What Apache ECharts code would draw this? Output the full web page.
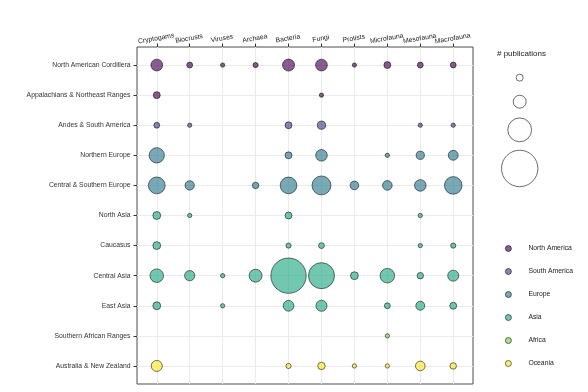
<!DOCTYPE html>
<html><head><meta charset="utf-8">
<script src="https://cdn.jsdelivr.net/npm/echarts@6/dist/echarts.min.js"></script>
<style>html,body{margin:0;padding:0;background:#fff}#c{width:588px;height:392px}</style>
</head><body><div id="c"></div>
<script>
// ---- data ----
const organismGroups = ['Cryptogams','Biocrusts','Viruses','Archaea','Bacteria','Fungi','Protists','Microfauna','Mesofauna','Macrofauna'];
const regions = ['North American Cordillera','Appalachians & Northeast Ranges','Andes & South America','Northern Europe','Central & Southern Europe','North Asia','Caucasus','Central Asia','East Asia','Southern African Ranges','Australia & New Zealand'];
const regionContinent = ['North America','North America','South America','Europe','Europe','Asia','Asia','Asia','Asia','Africa','Oceania'];
const continents = ['North America','South America','Europe','Asia','Africa','Oceania'];
const continentColors = ['#440154','#414487','#2A788E','#22A884','#7AD151','#FDE725'];
const sizeBreaks = [5, 25, 100, 250];

// publications per organism group (order of organismGroups), null = none
const northAmericanCordillera = [20, 3, 1, 2, 21, 20, 1, 5, 3, 3];
const appalachians            = [5, null, null, null, null, 1, null, null, null, null];
const andes                   = [3, 1, null, null, 5, 8, null, null, 1, 1];
const northernEurope          = [37, null, null, null, 5, 19, null, 1, 8, 13];
const centralSouthernEurope   = [46, 11, null, 4, 45, 60, 9, 12, 19, 51];
const northAsia               = [7, 1, null, null, 5, null, null, null, 1, null];
const caucasus                = [7, null, null, null, 2, 3, null, null, 1, 2];
const centralAsia             = [28, 14, 1, 25, 235, 122, 7, 33, 4, 17];
const eastAsia                = [7, null, 1, null, 16, 17, null, 3, 10, 5];
const southernAfrica          = [null, null, null, null, null, null, null, 1, null, null];
const australiaNZ             = [17, null, null, null, 2, 6, 1, 1, 12, 4];
const publications = [northAmericanCordillera, appalachians, andes, northernEurope, centralSouthernEurope,
  northAsia, caucasus, centralAsia, eastAsia, southernAfrica, australiaNZ];

// ---- helpers ----
function sizeOf(v){ return 2.1 + 2.17 * Math.sqrt(v); }
function rgba(hex, a){
  const n = parseInt(hex.slice(1), 16);
  return 'rgba(' + ((n>>16)&255) + ',' + ((n>>8)&255) + ',' + (n&255) + ',' + a + ')';
}
const FONT = 'Liberation Sans, Arial, sans-serif';
const xIdx = organismGroups.map((_, i) => i);
const yIdx = regions.map((_, i) => i);

const mainSeries = continents.map((cont, ci) => {
  const data = [];
  publications.forEach((row, ri) => {
    if (regionContinent[ri] !== cont) return;
    row.forEach((v, xi) => { if (v !== null && v !== undefined) data.push([xi, ri, v]); });
  });
  return {
    name: cont, type: 'scatter', xAxisIndex: 0, yAxisIndex: 0,
    data: data,
    symbol: 'circle',
    symbolSize: d => sizeOf(d[2]),
    itemStyle: { color: rgba(continentColors[ci], 0.8), borderColor: 'rgba(0,0,0,0.85)', borderWidth: 0.8 },
    emphasis: { disabled: true },
    z: 3
  };
});

// size-legend layout: key heights from symbol sizes
const keyCenters = [];
let cy = 77.7;
sizeBreaks.forEach((b, i) => {
  if (i > 0) {
    const h0 = Math.max(sizeOf(sizeBreaks[i-1]) + 8.5, 24);
    const h1 = Math.max(sizeOf(b) + 8.5, 24);
    cy += (h0 + h1) / 2;
  }
  keyCenters.push(cy);
});

const sizeLegendCircles = {
  type: 'scatter', xAxisIndex: 1, yAxisIndex: 1, silent: true,
  data: sizeBreaks.map((b, i) => [19.7, keyCenters[i], b]),
  symbolSize: d => sizeOf(d[2]),
  itemStyle: { color: '#ffffff', borderColor: '#333333', borderWidth: 0.9 },
  emphasis: { disabled: true }
};
const sizeLegendText = {
  type: 'scatter', xAxisIndex: 1, yAxisIndex: 1, silent: true,
  data: sizeBreaks.map((b, i) => [51, keyCenters[i], b]),
  symbolSize: 0,
  itemStyle: { opacity: 0 },
  label: { show: true, position: 'right', distance: 0, formatter: p => String(p.value[2]),
    fontSize: 6.8, color: '#1a1a1a', fontFamily: FONT },
  emphasis: { disabled: true }
};

function topLabelAxis(values, withTicks){
  return { type: 'value', gridIndex: 0, position: 'top', offset: 0, min: -0.6, max: 9.6,
    axisLine: { show: false, onZero: false },
    axisTick: { show: withTicks, length: 3.5, customValues: xIdx, lineStyle: { color: '#333333', width: 1 } },
    axisLabel: { customValues: values, formatter: v => organismGroups[Math.round(v)] || '',
      rotate: -10, align: 'center', verticalAlign: 'bottom', margin: 5, fontSize: 6.8, color: '#1a1a1a', fontFamily: FONT,
      showMinLabel: true, showMaxLabel: true, hideOverlap: false },
    splitLine: { show: withTicks, lineStyle: { color: '#ebebeb', width: 1 } } };
}

const option = {
  animation: false,
  backgroundColor: '#ffffff',
  title: { text: '# publications', left: 497, top: 50, padding: 0,
    textStyle: { fontSize: 8, fontWeight: 'normal', color: '#1a1a1a', fontFamily: FONT } },
  legend: {
    data: continents, orient: 'vertical', left: 505, top: 245,
    itemWidth: 6, itemHeight: 6, itemGap: 16, icon: 'circle', padding: 0,
    selectedMode: false,
    itemStyle: { borderColor: 'rgba(0,0,0,0.85)', borderWidth: 0.8 },
    textStyle: { fontSize: 6.8, color: '#1a1a1a', fontFamily: FONT, padding: [0, 0, 0, 12] }
  },
  grid: [
    { left: 137, top: 47, width: 336, height: 337, show: true, borderColor: '#4d4d4d', borderWidth: 1, backgroundColor: '#ffffff' },
    { left: 500, top: 0, width: 88, height: 392, show: false }
  ],
  xAxis: [
    topLabelAxis(xIdx.filter(i => i % 2 === 0), true),
    { type: 'value', gridIndex: 1, min: 0, max: 88, show: false },
    topLabelAxis(xIdx.filter(i => i % 2 === 1), false)
  ],
  yAxis: [
    { type: 'value', gridIndex: 0, inverse: true, min: -0.6, max: 10.6,
      axisLine: { show: false, onZero: false },
      axisTick: { show: true, length: 3.5, customValues: yIdx, lineStyle: { color: '#333333', width: 1 } },
      axisLabel: { customValues: yIdx, formatter: v => regions[Math.round(v)] || '',
        margin: 6.5, fontSize: 6.8, color: '#333333', fontFamily: FONT, showMinLabel: true, showMaxLabel: true },
      splitLine: { show: true, lineStyle: { color: '#ebebeb', width: 1 } } },
    { type: 'value', gridIndex: 1, min: 0, max: 392, inverse: true, show: false }
  ],
  series: mainSeries.concat([sizeLegendCircles, sizeLegendText])
};

const chart = echarts.init(document.getElementById('c'), null, { renderer: 'canvas' });
chart.setOption(option);
</script></body></html>
